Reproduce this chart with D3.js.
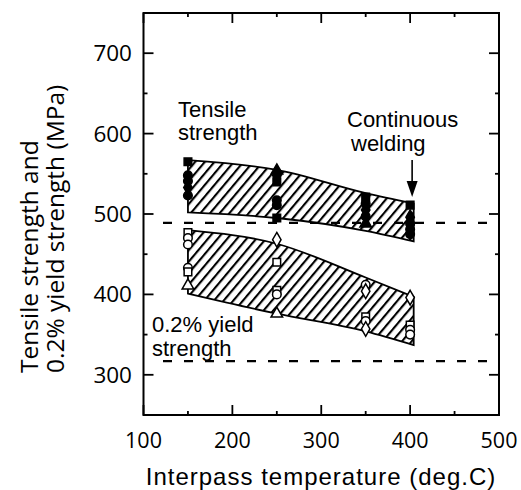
<!DOCTYPE html>
<html><head><meta charset="utf-8">
<script src="https://cdn.jsdelivr.net/npm/d3@7/dist/d3.min.js"></script>
<style>body{margin:0;background:#fff}</style>
</head><body><svg id="c" width="521" height="490"></svg>
<script>
// ---- data ----
const xTicks = [100, 200, 300, 400, 500];
const yTicks = [300, 400, 500, 600, 700];
const xMinor = [150, 250, 350, 450];
const yMinor = [350, 450, 550, 650, 750];
const bandX = [150, 250, 350, 404];
const tensileUpper = [567, 555, 526, 513];
const tensileLower = [502, 495, 479, 466];
const yieldUpper = [480, 463, 421, 397];
const yieldLower = [401, 376, 354, 337];
const tensilePts = [
  [150, 565, "square"], [150, 548, "circle"], [150, 541, "circle"], [150, 533, "diamond"], [150, 523, "circle"],
  [250, 554, "triangle"], [250, 548, "diamond"], [250, 540, "square"], [250, 517, "circle"], [250, 511, "circle"], [250, 495, "square"],
  [350, 521, "square"], [350, 513, "circle"], [350, 505, "diamond"], [350, 497, "circle"], [350, 488, "triangle"],
  [400, 496, "diamond"], [400, 488, "circle"], [400, 481, "circle"], [400, 475, "circle"]
];
const continuousPt = [[400, 511, "square"]];
const yieldPts = [
  [150, 477, "square"], [150, 470, "circle"], [150, 462, "circle"], [150, 433, "circle"], [150, 428, "square"], [150, 411, "triangle"],
  [250, 468, "diamond"], [250, 440, "square"], [250, 405, "square"], [250, 400, "circle"], [250, 376, "triangle"],
  [350, 412, "circle"], [350, 404, "diamond"], [350, 372, "square"], [350, 367, "circle"], [350, 357, "diamond"],
  [400, 396, "diamond"], [400, 362, "square"], [400, 356, "circle"], [400, 350, "circle"]
];
const refLines = [489, 317];

// ---- layout ----
const svg = d3.select("#c");
const L = 143.5, R = 499, T = 13, B = 415;
const x = d3.scaleLinear().domain([100, 500]).range([L, R]);
const y = d3.scaleLinear().domain([250, 750]).range([B, T]);

const defs = svg.append("defs");
defs.append("pattern").attr("id", "hatch").attr("patternUnits", "userSpaceOnUse")
  .attr("width", 7.4).attr("height", 10).attr("patternTransform", "rotate(40)")
  .append("line").attr("x1", 2).attr("x2", 2).attr("y1", -2).attr("y2", 12)
  .attr("stroke", "#000").attr("stroke-width", 2.1);

// bands
function band(up, lo) {
  const rows = bandX.map((v, i) => ({x: v, u: up[i], l: lo[i]}));
  return d3.area().x(d => x(d.x)).y0(d => y(d.l)).y1(d => y(d.u)).curve(d3.curveMonotoneX)(rows);
}
svg.append("path").attr("d", band(tensileUpper, tensileLower)).attr("fill", "url(#hatch)").attr("stroke", "#000").attr("stroke-width", 1.8);
svg.append("path").attr("d", band(yieldUpper, yieldLower)).attr("fill", "url(#hatch)").attr("stroke", "#000").attr("stroke-width", 1.8);

// dashed lines
svg.selectAll(".ref").data(refLines).enter().append("line")
  .attr("x1", 163).attr("x2", R - 3).attr("y1", d => y(d)).attr("y2", d => y(d))
  .attr("stroke", "#000").attr("stroke-width", 2.4).attr("stroke-dasharray", "9,12");

// markers
const sym = {circle: d3.symbolCircle, square: d3.symbolSquare, diamond: d3.symbolDiamond, triangle: d3.symbolTriangle};
function drawPts(pts, filled) {
  svg.append("g").selectAll("path").data(pts).enter().append("path")
    .attr("transform", d => `translate(${x(d[0])},${y(d[1])})`)
    .attr("d", d => d3.symbol().type(sym[d[2]]).size(d[2] === "diamond" ? 62 : 58)())
    .attr("fill", filled ? "#000" : "#fff").attr("stroke", "#000").attr("stroke-width", 1.5);
}
drawPts(yieldPts, false);
drawPts(tensilePts, true);
drawPts(continuousPt, true);

// frame
svg.append("rect").attr("x", L).attr("y", T).attr("width", R - L).attr("height", B - T)
  .attr("fill", "none").attr("stroke", "#000").attr("stroke-width", 2);

// ticks
const tk = svg.append("g").attr("stroke", "#000").attr("stroke-width", 1.8);
xTicks.forEach(v => { tk.append("line").attr("x1", x(v)).attr("x2", x(v)).attr("y1", B).attr("y2", B - 10);
  tk.append("line").attr("x1", x(v)).attr("x2", x(v)).attr("y1", T).attr("y2", T + 10); });
xMinor.forEach(v => { tk.append("line").attr("x1", x(v)).attr("x2", x(v)).attr("y1", B).attr("y2", B - 4);
  tk.append("line").attr("x1", x(v)).attr("x2", x(v)).attr("y1", T).attr("y2", T + 4); });
yTicks.forEach(v => { tk.append("line").attr("x1", L).attr("x2", L + 10).attr("y1", y(v)).attr("y2", y(v));
  tk.append("line").attr("x1", R).attr("x2", R - 10).attr("y1", y(v)).attr("y2", y(v)); });
yMinor.forEach(v => { tk.append("line").attr("x1", L).attr("x2", L + 4).attr("y1", y(v)).attr("y2", y(v));
  tk.append("line").attr("x1", R).attr("x2", R - 4).attr("y1", y(v)).attr("y2", y(v)); });

// tick labels
const tf = "'Open Sans', sans-serif";
svg.append("g").selectAll("text").data(xTicks).enter().append("text")
  .attr("x", d => x(d)).attr("y", 448).attr("text-anchor", "middle")
  .attr("font-family", tf).attr("font-size", 21.5).text(d => d);
svg.append("g").selectAll("text").data(yTicks).enter().append("text")
  .attr("x", 132).attr("y", d => y(d) + 8).attr("text-anchor", "end")
  .attr("font-family", tf).attr("font-size", 22.5).text(d => d);

// axis titles
svg.append("text").attr("x", 321).attr("y", 485).attr("text-anchor", "middle")
  .attr("font-family", "'Liberation Sans', Arial, sans-serif").attr("font-size", 24).attr("letter-spacing", 1)
  .text("Interpass temperature (deg.C)");
const yt = svg.append("g").attr("font-family", tf).attr("font-size", 24.5);
yt.append("text").attr("transform", "translate(38,373) rotate(-90)").text("Tensile strength and");
yt.append("text").attr("transform", "translate(64,373) rotate(-90)").text("0.2% yield strength (MPa)");

// annotations
const af = svg.append("g").attr("font-family", "'Liberation Sans', Arial, sans-serif").attr("font-size", 22).attr("letter-spacing", 0);
af.append("text").attr("x", 178).attr("y", 117).text("Tensile");
af.append("text").attr("x", 178).attr("y", 140).text("strength");
af.append("text").attr("x", 347).attr("y", 127).text("Continuous");
af.append("text").attr("x", 351).attr("y", 151).text("welding");
af.append("text").attr("x", 152).attr("y", 332).text("0.2% yield");
af.append("text").attr("x", 152).attr("y", 356).text("strength");

// arrow
const ax = x(400) + 2;
svg.append("line").attr("x1", ax).attr("x2", ax).attr("y1", 160).attr("y2", 185)
  .attr("stroke", "#000").attr("stroke-width", 1.6);
svg.append("path").attr("d", `M${ax - 5.5},181 L${ax + 5.5},181 L${ax},197 Z`).attr("fill", "#000");
</script></body></html>
